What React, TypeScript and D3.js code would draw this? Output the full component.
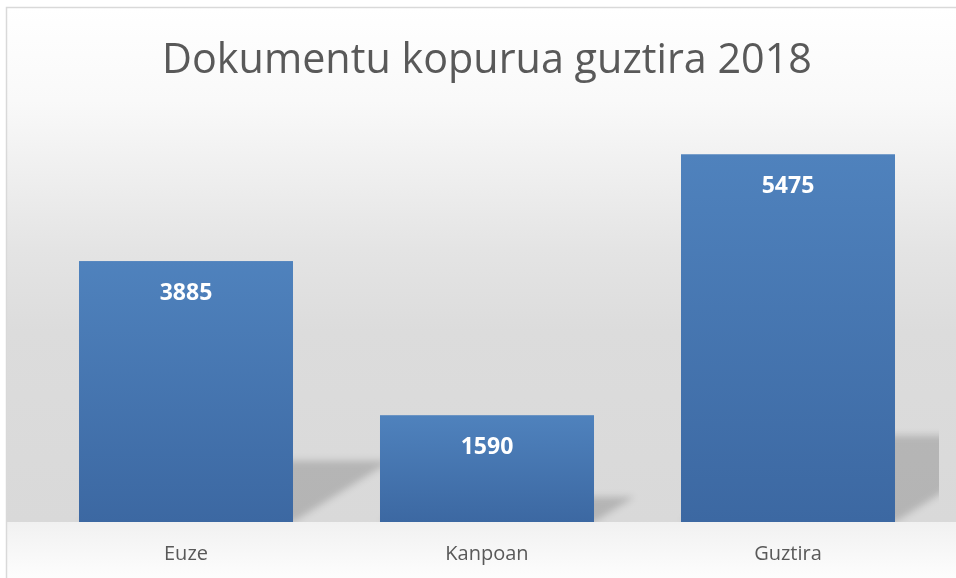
import React, { useEffect, useRef } from 'react';
import * as d3 from 'd3';

const title = 'Dokumentu kopurua guztira 2018';
const categories = ['Euze', 'Kanpoan', 'Guztira'];
const values = [3885, 1590, 5475];
const yMax = 6000;

export default function App() {
  const ref = useRef<SVGSVGElement>(null);

  useEffect(() => {
    const W = 956, H = 578;
    const svg = d3.select(ref.current).attr('width', W).attr('height', H);
    svg.selectAll('*').remove();

    const left = 35.5, right = 938.5, top = 119, base = 522;

    const defs = svg.append('defs');
    const bg = defs.append('linearGradient').attr('id', 'bg')
      .attr('gradientUnits', 'userSpaceOnUse')
      .attr('x1', 0).attr('x2', 0).attr('y1', 8).attr('y2', base);
    [[0, '#ffffff'], [0.18, '#f9f9f9'], [0.24, '#f5f5f5'], [0.47, '#e4e4e4'], [0.63, '#dcdcdc'], [1, '#d9d9d9']]
      .forEach(([o, c]) => bg.append('stop').attr('offset', o).attr('stop-color', c));
    const floor = defs.append('linearGradient').attr('id', 'floor')
      .attr('x1', 0).attr('x2', 0).attr('y1', 0).attr('y2', 1);
    floor.append('stop').attr('offset', 0).attr('stop-color', '#f1f1f1');
    floor.append('stop').attr('offset', 1).attr('stop-color', '#fdfdfd');
    const bar = defs.append('linearGradient').attr('id', 'bar')
      .attr('x1', 0).attr('x2', 0).attr('y1', 0).attr('y2', 1);
    bar.append('stop').attr('offset', 0).attr('stop-color', '#4f82bd');
    bar.append('stop').attr('offset', 1).attr('stop-color', '#3c68a2');
    defs.append('filter').attr('id', 'blur')
      .attr('x', '-20%').attr('y', '-20%').attr('width', '140%').attr('height', '140%')
      .append('feGaussianBlur').attr('stdDeviation', 3.5);
    defs.append('clipPath').attr('id', 'plotclip')
      .append('rect').attr('x', left).attr('y', top).attr('width', right - left + 0.5).attr('height', base - top);

    // chart area
    svg.append('rect').attr('x', 6.5).attr('y', 7.5).attr('width', W).attr('height', base - 7.5)
      .attr('fill', 'url(#bg)');
    svg.append('rect').attr('x', 6.5).attr('y', base).attr('width', W).attr('height', H - base)
      .attr('fill', 'url(#floor)');
    svg.append('rect').attr('x', 6.5).attr('y', 7.5).attr('width', W).attr('height', H)
      .attr('fill', 'none').attr('stroke', '#d9d9d9').attr('stroke-width', 1.5);

    const x = d3.scaleBand().domain(categories).range([left, right])
      .paddingInner(0.289).paddingOuter(0.1445);
    const y = d3.scaleLinear().domain([0, yMax]).range([base, top]);
    const data = categories.map((c, i) => ({ cat: c, val: values[i] }));

    // perspective shadows
    svg.append('g').attr('clip-path', 'url(#plotclip)')
      .append('g').attr('filter', 'url(#blur)')
      .selectAll('path').data(data).join('path')
      .attr('d', d => {
        const x0 = x(d.cat)!, x1 = x0 + x.bandwidth();
        const h = (base - y(d.val)) * 0.235;
        const dx = h * 1.6;
        return `M${x0},${base}L${x1},${base}L${x1 + dx},${base - h}L${x0 + dx},${base - h}Z`;
      })
      .attr('fill', '#000').attr('opacity', 0.17);

    svg.append('g').selectAll('rect').data(data).join('rect')
      .attr('x', d => x(d.cat)!)
      .attr('y', d => y(d.val))
      .attr('width', x.bandwidth())
      .attr('height', d => base - y(d.val))
      .attr('fill', 'url(#bar)');

    svg.append('g').selectAll('text').data(data).join('text')
      .attr('x', d => x(d.cat)! + x.bandwidth() / 2)
      .attr('y', d => y(d.val) + 39)
      .attr('text-anchor', 'middle')
      .style('font-family', '"Open Sans", sans-serif')
      .style('font-weight', 'bold')
      .style('font-size', '23px')
      .attr('fill', '#ffffff')
      .text(d => d.val);

    svg.append('g').selectAll('text').data(data).join('text')
      .attr('x', d => x(d.cat)! + x.bandwidth() / 2)
      .attr('y', 560)
      .attr('text-anchor', 'middle')
      .style('font-family', '"Open Sans", sans-serif')
      .style('font-size', '20px')
      .attr('fill', '#595959')
      .text(d => d.cat);

    svg.append('text')
      .attr('x', 487).attr('y', 73)
      .attr('text-anchor', 'middle')
      .style('font-family', '"Open Sans", sans-serif')
      .style('font-size', '42px')
      .attr('textLength', 650).attr('lengthAdjust', 'spacingAndGlyphs')
      .attr('fill', '#595959')
      .text(title);
  }, []);

  return (
    <svg ref={ref} style={{ position: 'absolute', left: 0, top: 0, display: 'block' }} />
  );
}
